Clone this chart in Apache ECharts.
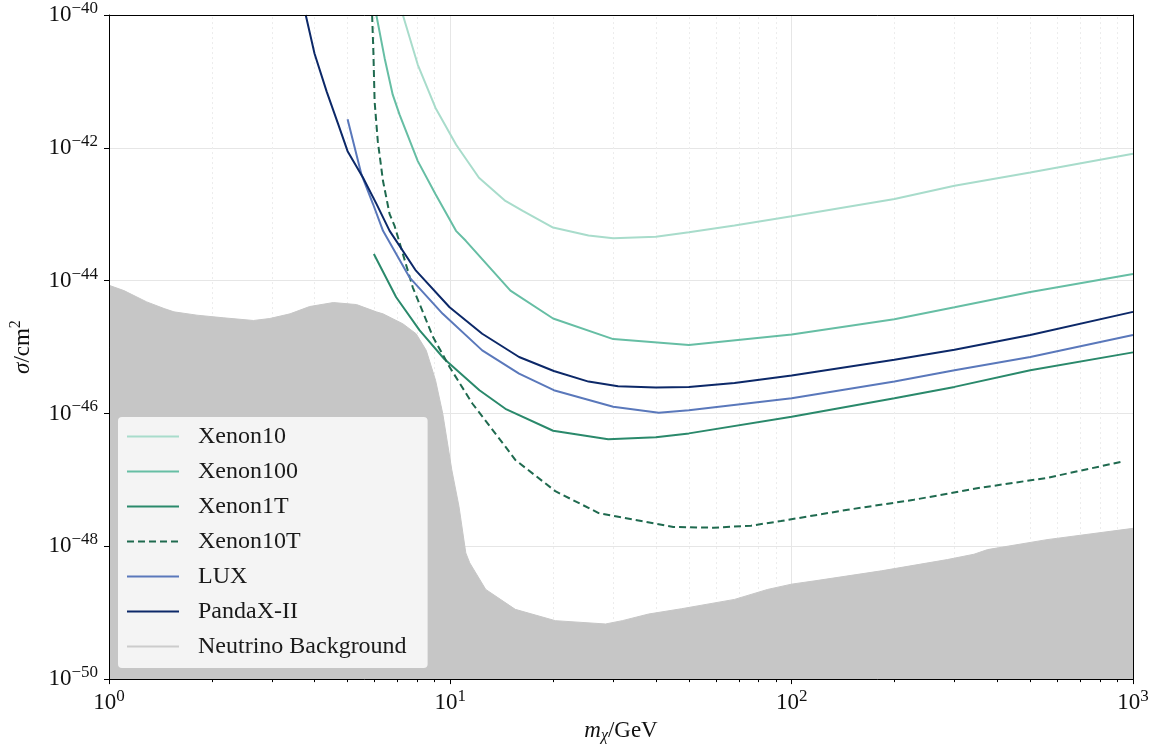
<!DOCTYPE html>
<html>
<head>
<meta charset="utf-8">
<script src="https://cdn.jsdelivr.net/npm/echarts@6.0.0/dist/echarts.min.js"></script>
<style>
html,body{margin:0;padding:0;background:#fff;}
#chart{width:1158px;height:749px;}
</style>
</head>
<body>
<div id="chart"></div>
<script>
// [mass in GeV, log10(cross section in cm^2)]
const xenon10 = [[7.26,-40.0],[8.03,-40.75],[9.05,-41.40],[10.39,-41.95],[12.13,-42.45],[14.5,-42.80],[16.3,-42.95],[20,-43.20],[25.4,-43.32],[30,-43.36],[40,-43.34],[50,-43.27],[68,-43.17],[100,-43.03],[200,-42.77],[300,-42.57],[500,-42.37],[1000,-42.09]]
const xenon100 = [[6.07,-40.0],[6.42,-40.65],[6.78,-41.20],[7.10,-41.50],[8.03,-42.20],[9.05,-42.70],[10.39,-43.25],[11.1,-43.40],[15,-44.15],[20,-44.57],[30,-44.88],[50,-44.97],[100,-44.81],[200,-44.58],[300,-44.40],[500,-44.17],[1000,-43.90]]
const xenon1T = [[5.97,-43.60],[6.94,-44.25],[8.13,-44.75],[9.6,-45.18],[12.17,-45.65],[14.5,-45.93],[20,-46.26],[29,-46.39],[40,-46.36],[50,-46.30],[100,-46.05],[200,-45.77],[300,-45.60],[500,-45.35],[1000,-45.08]]
const xenon10T = [[5.9,-40.0],[5.95,-40.55],[6.0,-41.30],[6.13,-41.90],[6.35,-42.50],[6.64,-43.0],[6.87,-43.18],[7.76,-44.10],[8.9,-44.85],[9.95,-45.30],[11.6,-45.85],[14.5,-46.50],[15.5,-46.70],[20.3,-47.17],[27.2,-47.50],[45,-47.71],[59,-47.72],[76,-47.69],[93,-47.62],[146,-47.45],[228,-47.30],[356,-47.12],[560,-46.97],[940,-46.72]]
const lux = [[5.0,-41.57],[5.49,-42.40],[5.94,-42.85],[6.35,-43.25],[7.59,-43.95],[9.5,-44.50],[12.4,-45.05],[15.9,-45.40],[20.1,-45.65],[30,-45.90],[40.8,-45.99],[50,-45.95],[100,-45.77],[200,-45.52],[300,-45.35],[500,-45.15],[1000,-44.82]]
const pandax = [[3.77,-40.0],[4.0,-40.58],[4.34,-41.15],[4.69,-41.64],[5.0,-42.05],[5.55,-42.45],[6.07,-42.84],[6.64,-43.25],[7.93,-43.85],[9.95,-44.40],[12.4,-44.80],[15.9,-45.15],[20.1,-45.36],[25.4,-45.52],[31,-45.59],[40,-45.61],[50,-45.60],[68,-45.54],[100,-45.43],[200,-45.19],[300,-45.04],[500,-44.82],[1000,-44.47]]
const neutrino = [[1,-44.07],[1.106,-44.15],[1.29,-44.32],[1.45,-44.42],[1.55,-44.47],[1.81,-44.52],[2.17,-44.56],[2.65,-44.60],[2.96,-44.57],[3.39,-44.50],[3.87,-44.39],[4.54,-44.33],[5.31,-44.36],[6.07,-44.47],[6.35,-44.50],[7.26,-44.65],[7.94,-44.80],[8.5,-45.05],[9.05,-45.50],[9.5,-46.0],[10.1,-46.85],[10.6,-47.40],[11.1,-48.10],[11.4,-48.25],[12.7,-48.65],[15.5,-48.95],[20.3,-49.12],[28.5,-49.17],[31.9,-49.12],[38.1,-49.02],[47.6,-48.94],[68,-48.80],[85,-48.65],[100,-48.57],[117,-48.52],[183,-48.37],[286,-48.20],[342,-48.12],[375,-48.05],[560,-47.90],[1000,-47.73]]

const legendNames = ['Xenon10','Xenon100','Xenon1T','Xenon10T','LUX','PandaX-II','Neutrino Background']
const minorX = [2,3,4,5,6,7,8,9,20,30,40,50,60,70,80,90,200,300,400,500,600,700,800,900]

const FONT = 'Liberation Serif'

//刻度标签：10 的上标
const supText = e => '{b|10}{s|' + (e < 0 ? '\u2212' + (-e) : e) + '}'
const tickRich = {
  b: { fontSize: 23, fontFamily: FONT, color: '#111' },
  s: { fontSize: 17, fontFamily: FONT, color: '#111', padding: [0, 0, 13, 0] },
}

let mycharts = echarts.init(document.getElementById('chart'))

const lineSeries = (name, data, color, dashed) => ({
  name: name,
  type: 'line',
  data: data,
  xAxisIndex: 0,
  yAxisIndex: 0,
  symbol: 'none',
  showSymbol: false,
  z: 3,
  lineStyle: { color: color, width: 2, type: dashed ? [7, 4] : 'solid' },
  itemStyle: { color: color },
})

const xBase = { type: 'log', logBase: 10, min: 1, max: 1000, splitNumber: 3 }
// y 轴用 log10 值的数值轴
const yBase = { type: 'value', min: -50, max: -40, interval: 2 }

mycharts.setOption({
  animation: false,
  grid: { left: 105, right: 25, top: 13.5, bottom: 69 },
  xAxis: [
    {
      //主网格线
      ...xBase, position: 'bottom',
      axisLine: { show: false, onZero: false }, axisTick: { show: false }, axisLabel: { show: false },
      splitLine: { show: true, lineStyle: { color: '#e6e6e6', width: 1 } }, z: 0,
    },
    {
      ...xBase, position: 'bottom',
      axisLine: { show: true, onZero: false, lineStyle: { color: '#000', width: 1 } },
      axisTick: { show: true, length: 5, lineStyle: { color: '#000' } },
      axisLabel: { formatter: v => supText(Math.round(Math.log10(v))), rich: tickRich, margin: 9 },
      splitLine: { show: false },
      name: '{i|m}{sub|\u03c7}{r|/GeV}', nameLocation: 'middle', nameGap: 37,
      nameTextStyle: {
        rich: {
          i: { fontSize: 23, fontFamily: FONT, fontStyle: 'italic', color: '#111' },
          sub: { fontSize: 16, fontFamily: FONT, fontStyle: 'italic', color: '#111', padding: [10, 0, 0, 0] },
          r: { fontSize: 23, fontFamily: FONT, color: '#111' },
        },
      },
      z: 5,
    },
    {
      //次刻度
      ...xBase, position: 'bottom',
      axisLine: { show: false, onZero: false },
      axisTick: { show: true, length: 3, customValues: minorX, lineStyle: { color: '#000' } },
      axisLabel: { show: false }, splitLine: { show: false }, z: 5,
    },
    {
      ...xBase, position: 'top',
      axisLine: { show: true, onZero: false, lineStyle: { color: '#000', width: 1 } },
      axisTick: { show: false }, axisLabel: { show: false }, splitLine: { show: false }, z: 5,
    },
  ],
  yAxis: [
    {
      ...yBase, position: 'left',
      axisLine: { show: false, onZero: false }, axisTick: { show: false }, axisLabel: { show: false },
      splitLine: { show: true, lineStyle: { color: '#e6e6e6', width: 1 } }, z: 0,
    },
    {
      ...yBase, position: 'left',
      axisLine: { show: true, onZero: false, lineStyle: { color: '#000', width: 1 } },
      axisTick: { show: true, length: 5, lineStyle: { color: '#000' } },
      axisLabel: { formatter: v => supText(v), rich: tickRich, margin: 11 },
      splitLine: { show: false },
      name: '{i|\u03c3}{r|/cm}{p|2}', nameLocation: 'middle', nameGap: 72,
      nameTextStyle: {
        rich: {
          i: { fontSize: 23, fontFamily: FONT, fontStyle: 'italic', color: '#111' },
          r: { fontSize: 23, fontFamily: FONT, color: '#111' },
          p: { fontSize: 16, fontFamily: FONT, color: '#111', padding: [0, 0, 13, 0] },
        },
      },
      z: 5,
    },
    {
      ...yBase, position: 'right',
      axisLine: { show: true, onZero: false, lineStyle: { color: '#000', width: 1 } },
      axisTick: { show: false }, axisLabel: { show: false }, splitLine: { show: false }, z: 5,
    },
  ],
  legend: {
    orient: 'vertical', left: 118, top: 417,
    padding: [7, 21, 9, 8], itemGap: 10, itemWidth: 52, itemHeight: 14,
    backgroundColor: 'rgba(255,255,255,0.8)', borderRadius: 4,
    itemStyle: { opacity: 0 },
    textStyle: { fontFamily: FONT, fontSize: 24, color: '#1a1a1a', lineHeight: 25, padding: [0, 0, 0, 14] },
    data: legendNames.map(n => n === 'Neutrino Background'
      ? { name: n, lineStyle: { color: '#cccccc', width: 2 } }
      : n),
  },
  series: [
    {
      name: 'Neutrino Background',
      type: 'line',
      data: neutrino,
      xAxisIndex: 0, yAxisIndex: 0,
      symbol: 'none', showSymbol: false, z: 2,
      lineStyle: { color: '#c6c6c6', width: 1 },
      itemStyle: { color: '#c6c6c6' },
      areaStyle: { color: '#c6c6c6', opacity: 1, origin: 'start' },
      //次网格虚线
      markLine: {
        silent: true, symbol: 'none', z: 1,
        label: { show: false },
        lineStyle: { color: '#ececec', width: 1, type: [2, 3] },
        data: minorX.map(v => ({ xAxis: v })),
      },
    },
    lineSeries('Xenon10', xenon10, '#a8dccb'),
    lineSeries('Xenon100', xenon100, '#66bea4'),
    lineSeries('Xenon1T', xenon1T, '#2a896b'),
    lineSeries('Xenon10T', xenon10T, '#1f6a4f', true),
    lineSeries('LUX', lux, '#5a78bb'),
    lineSeries('PandaX-II', pandax, '#0c2868'),
  ],
})
</script>
</body>
</html>
